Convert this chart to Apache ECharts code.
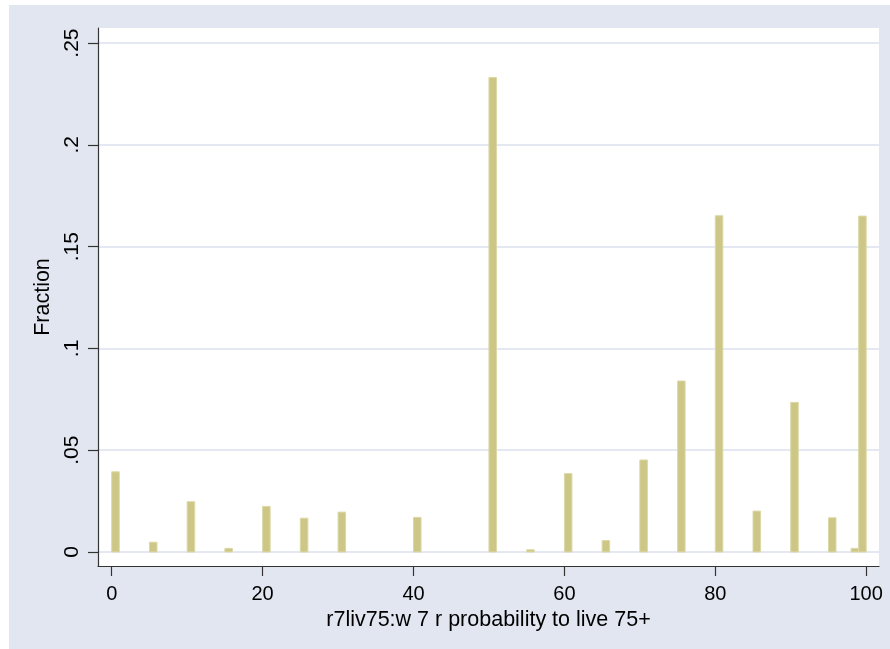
<!DOCTYPE html>
<html>
<head>
<meta charset="utf-8">
<script src="https://cdn.jsdelivr.net/npm/echarts@6/dist/echarts.min.js"></script>
<style>
html,body{margin:0;padding:0;background:#ffffff;}
#chart{position:absolute;left:9px;top:5px;width:881px;height:644px;}
</style>
</head>
<body>
<div id="chart"></div>
<script>
// Histogram bins (left edge of each width-1 bin) and their fractions
var binStarts = [0, 5, 10, 15, 20, 25, 30, 40, 50, 55, 60, 65, 70, 75, 80, 85, 90, 95, 98, 99];
var fractions = [0.0394, 0.0048, 0.0247, 0.0018, 0.0224, 0.0166, 0.0196, 0.0170, 0.2331, 0.0011,
                 0.0385, 0.0056, 0.0452, 0.0840, 0.1652, 0.0201, 0.0735, 0.0168, 0.0018, 0.1650];
var binWidth = 1;
var xTickValues = [0, 20, 40, 60, 80, 100];
var xTickLabels = ["0", "20", "40", "60", "80", "100"];
var yTickValues = [0, 0.05, 0.1, 0.15, 0.2, 0.25];
var yTickLabels = ["0", ".05", ".1", ".15", ".2", ".25"];
var xTitle = "r7liv75:w 7 r probability to live 75+";
var yTitle = "Fraction";

var data = binStarts.map(function (s, i) { return [s, s + binWidth, fractions[i]]; });

function labelFor(values, labels) {
  return function (v) {
    for (var i = 0; i < values.length; i++) {
      if (Math.abs(values[i] - v) < 1e-9) return labels[i];
    }
    return '';
  };
}

var FONT = '"Liberation Sans", Arial, sans-serif';
var chart = echarts.init(document.getElementById('chart'), null, {renderer: 'canvas'});
chart.setOption({
  animation: false,
  backgroundColor: '#e1e6f0',
  grid: {
    left: 89, top: 23, width: 781, height: 538,
    show: true, backgroundColor: '#ffffff', borderWidth: 0
  },
  xAxis: {
    type: 'value',
    min: -1.82, max: 101.7,
    name: xTitle,
    nameLocation: 'middle',
    nameGap: 40,
    nameTextStyle: {fontFamily: FONT, fontSize: 21.5, color: '#000'},
    axisLine: {show: true, onZero: false, lineStyle: {color: '#333', width: 1.2}},
    axisTick: {show: true, length: 10, customValues: xTickValues, lineStyle: {color: '#333', width: 1.2}},
    axisLabel: {show: true, margin: 18, customValues: xTickValues, fontFamily: FONT, fontSize: 20, color: '#000',
      formatter: labelFor(xTickValues, xTickLabels)},
    splitLine: {show: false}
  },
  yAxis: {
    type: 'value',
    min: -0.00688, max: 0.2574,
    name: yTitle,
    nameLocation: 'middle',
    nameGap: 42,
    nameTextStyle: {fontFamily: FONT, fontSize: 21.5, color: '#000'},
    axisLine: {show: true, onZero: false, lineStyle: {color: '#333', width: 1.2}},
    axisTick: {show: true, length: 10, customValues: yTickValues, lineStyle: {color: '#333', width: 1.2}},
    axisLabel: {show: true, margin: 15, rotate: 90, customValues: yTickValues, fontFamily: FONT, fontSize: 21, color: '#000',
      formatter: labelFor(yTickValues, yTickLabels)},
    splitLine: {show: true, lineStyle: {color: '#dbe1ee', width: 1.5}}
  },
  series: [{
    type: 'custom',
    data: data,
    encode: {x: [0, 1], y: 2},
    renderItem: function (params, api) {
      var p1 = api.coord([api.value(0), api.value(2)]);
      var p2 = api.coord([api.value(1), 0]);
      return {
        type: 'rect',
        shape: {x: p1[0], y: p1[1], width: p2[0] - p1[0], height: p2[1] - p1[1]},
        style: {fill: '#cdc787', stroke: '#dcd8a6', lineWidth: 1}
      };
    }
  }]
});
</script>
</body>
</html>
